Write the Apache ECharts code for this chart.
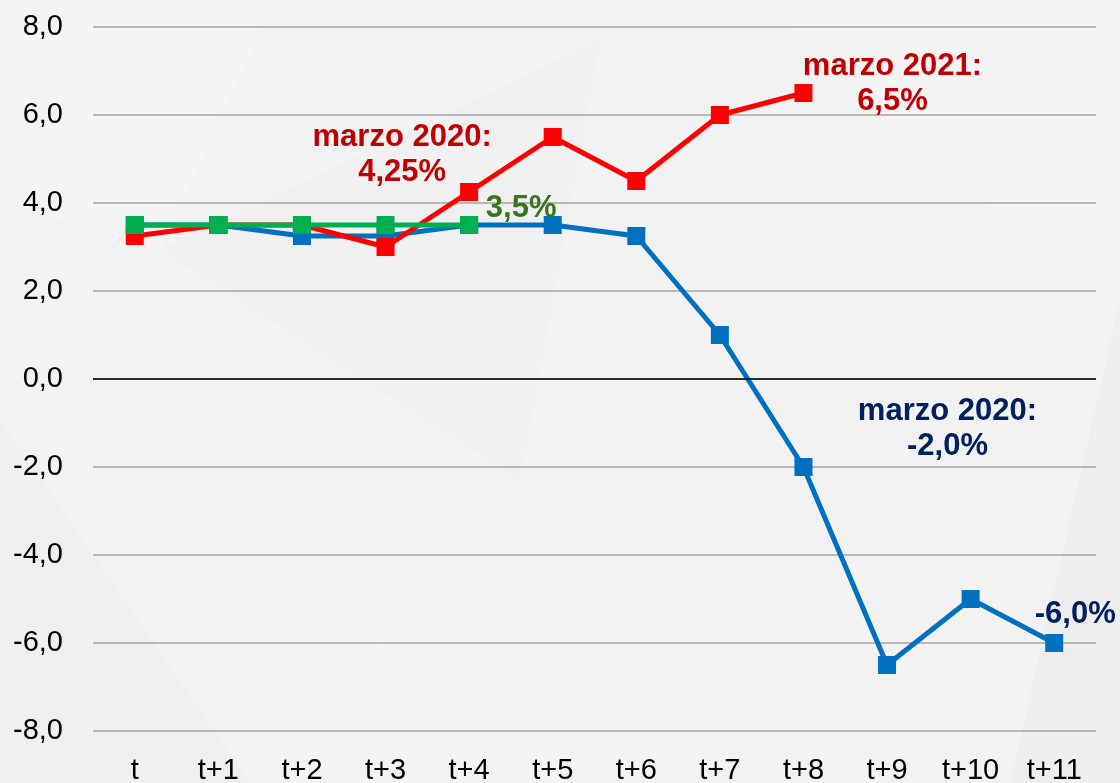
<!DOCTYPE html>
<html>
<head>
<meta charset="utf-8">
<script src="https://cdn.jsdelivr.net/npm/echarts@6/dist/echarts.min.js"></script>
<style>
  html, body { margin: 0; padding: 0; background: #f2f2f2; }
  #chart { width: 1120px; height: 783px; }
</style>
</head>
<body>
<div id="chart"></div>
<script>
// Periods and series values (percent)
const categories = ['t', 't+1', 't+2', 't+3', 't+4', 't+5', 't+6', 't+7', 't+8', 't+9', 't+10', 't+11'];
const blueValues  = [3.5, 3.5, 3.25, 3.25, 3.5, 3.5, 3.25, 1.0, -2.0, -6.5, -5.0, -6.0];
const redValues   = [3.25, 3.5, 3.5, 3.0, 4.25, 5.5, 4.5, 6.0, 6.5];
const greenValues = [3.5, 3.5, 3.5, 3.5, 3.5];
const yTicks = { min: -8, max: 8, interval: 2 };

const fmtComma = v => v.toFixed(1).replace('.', ',');

// Callout text for selected points: [index, text, colour, offset]
const redNotes   = [[4, 'marzo 2020:\n4,25%', '#c00000', [-67, -37]], [8, 'marzo 2021:\n6,5%', '#c00000', [89, -9]]];
const greenNotes = [[4, '3,5%', '#38761d', [52, -17]]];
const blueNotes  = [[8, 'marzo 2020:\n-2,0%', '#002060', [144, -38]], [11, '-6,0%', '#002060', [21, -29]]];

function withNotes(values, notes) {
  return values.map((v, i) => {
    const n = notes.find(x => x[0] === i);
    if (!n) return v;
    return {
      value: v,
      label: {
        show: true, position: 'inside', formatter: n[1], color: n[2], offset: n[3],
        fontFamily: 'Liberation Sans, Arial, sans-serif', fontWeight: 'bold', fontSize: 31,
        lineHeight: 35, align: 'center'
      }
    };
  });
}

function lineSeries(name, values, notes, color, z) {
  return {
    name, type: 'line', data: withNotes(values, notes), z,
    symbol: 'rect', symbolSize: 18, showSymbol: true,
    lineStyle: { color, width: 5 },
    itemStyle: { color },
    label: { show: false },
    emphasis: { disabled: true },
    animation: false
  };
}

const chart = echarts.init(document.getElementById('chart'));
chart.setOption({
  backgroundColor: '#f2f2f2',
  graphic: [
    { type: 'polygon', silent: true, z: -10, shape: { points: [[0, 0], [275, 0], [160, 250], [0, 200]] }, style: { fill: '#f4f4f4' } },
    { type: 'polygon', silent: true, z: -10, shape: { points: [[160, 250], [600, 40], [520, 480]] }, style: { fill: '#f0f0f0' } },
    { type: 'polygon', silent: true, z: -10, shape: { points: [[0, 420], [250, 783], [0, 783]] }, style: { fill: '#efefef' } },
    { type: 'polygon', silent: true, z: -10, shape: { points: [[760, 0], [1120, 0], [1120, 300], [950, 180]] }, style: { fill: '#f4f4f4' } },
    { type: 'polygon', silent: true, z: -10, shape: { points: [[250, 783], [520, 480], [700, 783]] }, style: { fill: '#f3f3f3' } },
    { type: 'polygon', silent: true, z: -10, shape: { points: [[1120, 300], [1120, 783], [1010, 783]] }, style: { fill: '#eeeeee' } }
  ],
  grid: { left: 93, right: 24, top: 27, bottom: 52, containLabel: false, outerBoundsMode: 'none' },
  xAxis: {
    type: 'category', data: categories, boundaryGap: true,
    axisLine: { show: false }, axisTick: { show: false },
    axisLabel: { color: '#000', fontSize: 29, fontFamily: 'Liberation Sans, Arial, sans-serif', margin: 25, interval: 0 },
    splitLine: { show: false }
  },
  yAxis: {
    type: 'value', min: yTicks.min, max: yTicks.max, interval: yTicks.interval,
    axisLine: { show: false }, axisTick: { show: false },
    axisLabel: { color: '#000', fontSize: 29, fontFamily: 'Liberation Sans, Arial, sans-serif', margin: 30, formatter: fmtComma },
    splitLine: { lineStyle: { color: '#a6a6a6', width: 1.5 } }
  },
  series: [
    lineSeries('blue', blueValues, blueNotes, '#0070c0', 2),
    lineSeries('red', redValues, redNotes, '#ff0000', 3),
    lineSeries('green', greenValues, greenNotes, '#00b050', 4),
    {
      type: 'line', data: [], z: 1, silent: true,
      markLine: {
        silent: true, symbol: 'none', label: { show: false }, animation: false,
        lineStyle: { color: '#000', width: 1.5, type: 'solid' },
        data: [{ yAxis: 0 }]
      }
    }
  ]
});
</script>
</body>
</html>
